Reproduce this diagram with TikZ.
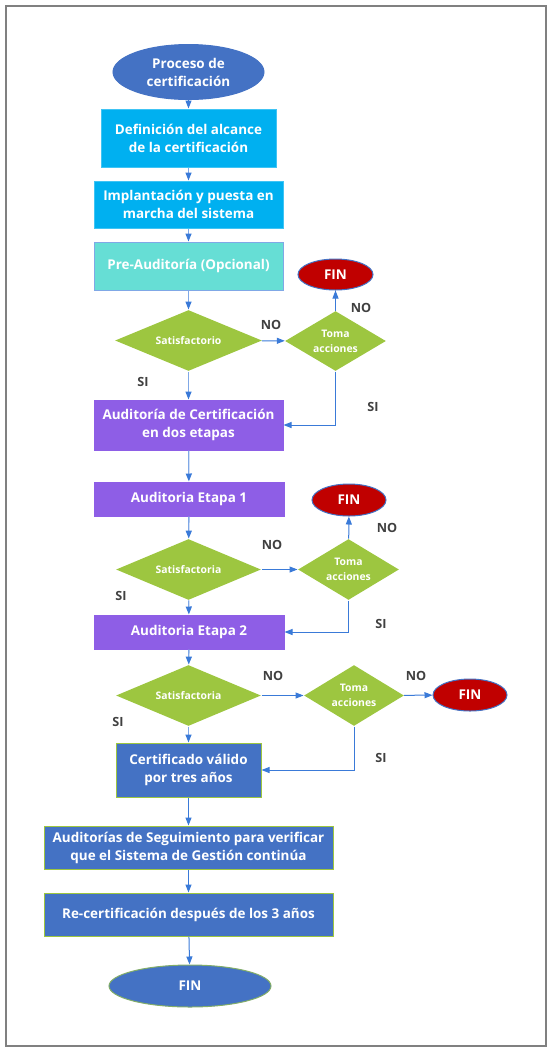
\documentclass[tikz,border=0pt]{standalone}
\usepackage{fontspec}
\setmainfont{Open Sans}
\usetikzlibrary{shapes.geometric,arrows.meta}

\definecolor{azulnodo}{RGB}{68,114,196}
\definecolor{celeste}{RGB}{0,176,240}
\definecolor{turquesa}{RGB}{102,222,213}
\definecolor{morado}{RGB}{142,94,230}
\definecolor{verde}{RGB}{157,198,64}
\definecolor{rojo}{RGB}{192,0,0}
\definecolor{flechaazul}{RGB}{58,122,216}
\definecolor{flechaclara}{RGB}{128,168,230}
\definecolor{gris}{RGB}{64,64,64}

\tikzset{every picture/.style={line width=0.75pt}}
\tikzset{
  caja/.style={rectangle, draw=#1!75!white, fill=#1, text=white, font=\bfseries\fontsize{10.1}{13.5}\selectfont, align=center, inner sep=0.75pt},
  cajaverde/.style={rectangle, draw=verde, fill=azulnodo, text=white, font=\bfseries\fontsize{10.1}{13.5}\selectfont, align=center, inner sep=0.75pt},
  decision/.style={diamond, fill=verde, text=white, font=\bfseries\fontsize{7.8}{11.5}\selectfont, align=center, inner sep=0pt, aspect=2.4},
  terminal/.style={ellipse, draw=azulnodo, fill=#1, text=white, font=\bfseries\fontsize{10.1}{13.5}\selectfont, align=center, inner sep=0pt},
  rotulo/.style={text=gris, font=\bfseries\fontsize{9.5}{11}\selectfont, inner sep=0.75pt},
  flecha/.style={draw=flechaazul, -{Triangle[length=6pt,width=4.5pt]}},
  flechasuave/.style={draw=flechaclara, line width=1pt, -{Triangle[length=6pt,width=4.5pt,color=flechaazul]}}
}

\begin{document}
\begin{tikzpicture}[x=0.75pt,y=0.75pt,yscale=-1,xscale=1]
		\useasboundingbox (0,0) rectangle (551,1051);
		%Shape: Rectangle [frame]
		\draw [color={rgb, 255:red, 128; green, 128; blue, 128 }, line width=0.9pt] (6,6) rectangle (546,1046);

		%Shape: Ellipse [inicio]
		\node [terminal=azulnodo, minimum width=113.25pt, minimum height=41.25pt] (inicio) at (188.5,72) {Proceso de\\certificación};
		%Shape: Rectangle [alcance]
		\node [caja=celeste, minimum width=131.25pt, minimum height=43.5pt] (alcance) at (188.5,138) {Definición del alcance\\de la certificación};
		%Shape: Rectangle [implantacion]
		\node [caja=celeste, minimum width=141.75pt, minimum height=35.25pt] (implantacion) at (188.5,204.5) {Implantación y puesta en\\marcha del sistema};
		%Shape: Rectangle [preauditoria]
		\node [caja=turquesa, draw=flechaclara, minimum width=141.75pt, minimum height=36pt] (preaud) at (188.5,266) {Pre-Auditoría (Opcional)};

		%Shape: Diamond [satA]
		\node [decision, minimum width=110.25pt, minimum height=45.75pt] (satA) at (188.5,340.5) {Satisfactorio};
		%Shape: Diamond [tomaA]
		\node [decision, minimum width=75.75pt, minimum height=45pt] (tomaA) at (335.5,341) {Toma\\acciones};
		%Shape: Ellipse [finA]
		\node [terminal=rojo, minimum width=56.25pt, minimum height=23.25pt] (finA) at (335.5,274.5) {FIN};

		%Shape: Rectangle [certificacion]
		\node [caja=morado, draw=morado, minimum width=141.75pt, minimum height=37.5pt] (certif) at (188.5,425) {Auditoría de Certificación\\en dos etapas};
		%Shape: Rectangle [etapa1]
		\node [caja=morado, draw=morado, minimum width=142.5pt, minimum height=25.5pt] (etapa1) at (189,499) {Auditoria Etapa 1};

		%Shape: Diamond [satB]
		\node [decision, minimum width=108.75pt, minimum height=45.75pt] (satB) at (188.5,569.5) {Satisfactoria};
		%Shape: Diamond [tomaB]
		\node [decision, minimum width=75.75pt, minimum height=45.75pt] (tomaB) at (348.5,569.5) {Toma\\acciones};
		%Shape: Ellipse [finB]
		\node [terminal=rojo, minimum width=55.5pt, minimum height=24pt] (finB) at (349,500) {FIN};

		%Shape: Rectangle [etapa2]
		\node [caja=morado, draw=morado, minimum width=142.5pt, minimum height=25.5pt] (etapa2) at (189,632) {Auditoria Etapa 2};

		%Shape: Diamond [satC]
		\node [decision, minimum width=108.75pt, minimum height=45.75pt] (satC) at (188.5,695.5) {Satisfactoria};
		%Shape: Diamond [tomaC]
		\node [decision, minimum width=75pt, minimum height=45.75pt] (tomaC) at (354,695.5) {Toma\\acciones};
		%Shape: Ellipse [finC]
		\node [terminal=rojo, minimum width=55.5pt, minimum height=24pt] (finC) at (470,695) {FIN};

		%Shape: Rectangle [valido]
		\node [cajaverde, minimum width=108.75pt, minimum height=40.5pt] (valido) at (188.5,770) {Certificado válido\\por tres años};
		%Shape: Rectangle [seguimiento]
		\node [cajaverde, minimum width=216.75pt, minimum height=32.25pt] (seguim) at (188.5,847.5) {Auditorías de Seguimiento para verificar\\que el Sistema de Gestión continúa};
		%Shape: Rectangle [recertificacion]
		\node [cajaverde, minimum width=216.75pt, minimum height=32.25pt] (recert) at (188.5,914.5) {Re-certificación después de los 3 años};
		%Shape: Ellipse [fin]
		\node [terminal=azulnodo, draw=verde!70!azulnodo, minimum width=121.5pt, minimum height=31.5pt] (fin) at (190,986) {FIN};

		%Straight Lines [main flow]
		\draw [flecha] (inicio) -- (alcance);
		\draw [flechasuave] (alcance) -- (implantacion);
		\draw [flechasuave] (implantacion) -- (preaud);
		\draw [flechasuave] (preaud) -- (satA);
		\draw [flechasuave] (satA) -- (certif);
		\draw [flechasuave] (certif) -- (etapa1);
		\draw [flechasuave] (etapa1) -- (satB);
		\draw [flechasuave] (satB) -- (etapa2);
		\draw [flechasuave] (etapa2) -- (satC);
		\draw [flechasuave] (satC) -- (valido);
		\draw [flecha] (valido) -- (seguim);
		\draw [flecha] (seguim) -- (recert);
		\draw [flecha] (recert) -- (fin);

		%Straight Lines [branches]
		\draw [flecha] (satA) -- (tomaA);
		\draw [flecha] (tomaA) -- (finA);
		\draw [flecha] (tomaA.south) |- (certif.east);
		\draw [flecha] (satB) -- (tomaB);
		\draw [flecha] (tomaB) -- (finB);
		\draw [flecha] (tomaB.south) |- (etapa2.east);
		\draw [flecha] (satC) -- (tomaC);
		\draw [flecha] (tomaC) -- (finC);
		\draw [flecha] (tomaC.south) |- (valido.east);

		% Text Node
		\node [rotulo] (noA) at (271,325) {NO};
		% Text Node
		\node [rotulo] (noA2) at (361,308) {NO};
		% Text Node
		\node [rotulo] (siA) at (143,382) {SI};
		% Text Node
		\node [rotulo] (siA2) at (373,407) {SI};
		% Text Node
		\node [rotulo] (noB) at (272,545) {NO};
		% Text Node
		\node [rotulo] (noB2) at (387,528) {NO};
		% Text Node
		\node [rotulo] (siB) at (121,596) {SI};
		% Text Node
		\node [rotulo] (siB2) at (381,624) {SI};
		% Text Node
		\node [rotulo] (noC) at (273,676) {NO};
		% Text Node
		\node [rotulo] (noC2) at (416,676) {NO};
		% Text Node
		\node [rotulo] (siC) at (118,722) {SI};
		% Text Node
		\node [rotulo] (siC2) at (381,758) {SI};

	\end{tikzpicture}
\end{document}
